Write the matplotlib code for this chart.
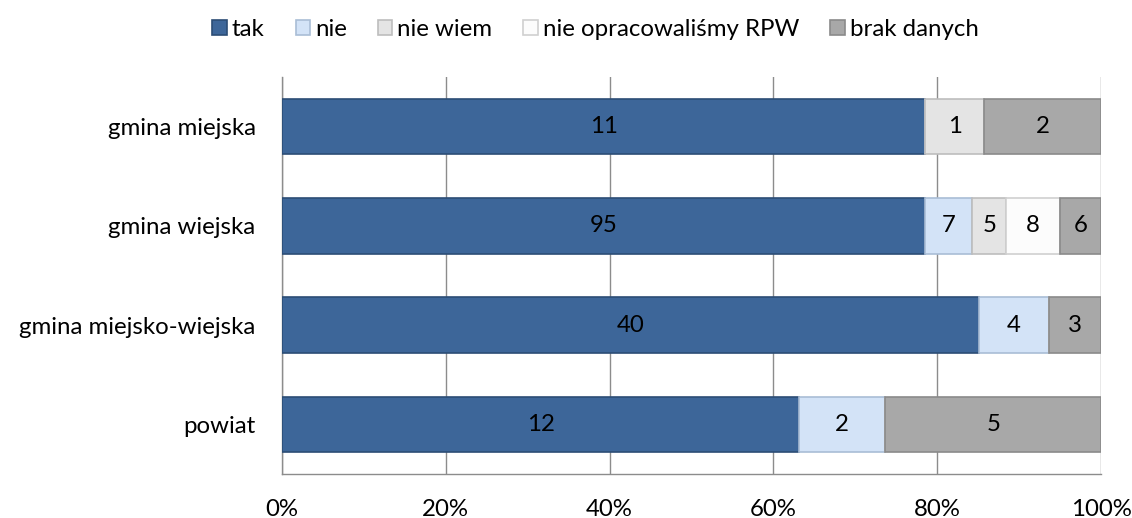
import matplotlib.pyplot as plt
import numpy as np

plt.rcParams['font.family'] = ['Lato', 'DejaVu Sans']

categories = ['gmina miejska', 'gmina wiejska', 'gmina miejsko-wiejska', 'powiat']
series = ['tak', 'nie', 'nie wiem', 'nie opracowaliśmy RPW', 'brak danych']
values = {
    'tak': [11, 95, 40, 12],
    'nie': [0, 7, 4, 2],
    'nie wiem': [1, 5, 0, 0],
    'nie opracowaliśmy RPW': [0, 8, 0, 0],
    'brak danych': [2, 6, 3, 5],
}
colors = ['#3d6699', '#d3e3f7', '#e4e4e4', '#fcfcfc', '#a8a8a8']
edges = ['#2c4d75', '#a9bdd6', '#bdbdbd', '#d0d0d0', '#8a8a8a']

fig = plt.figure(figsize=(11.32, 5.18), dpi=100)
ax = fig.add_axes([0.2491, 0.0849, 0.7235, 0.7665])

data = np.array([values[s] for s in series], dtype=float)
totals = data.sum(axis=0)
pct = data / totals * 100
y = np.arange(len(categories))

fs = 17.3
left = np.zeros(len(categories))
for i, s in enumerate(series):
    ax.barh(y, pct[i], left=left, height=0.56, color=colors[i],
            edgecolor=edges[i], linewidth=1.2, label=s, zorder=3)
    for j in range(len(categories)):
        if data[i, j] > 0:
            ax.text(left[j] + pct[i, j] / 2, y[j], f'{int(data[i, j])}',
                    ha='center', va='center', fontsize=fs, color='black', zorder=4)
    left += pct[i]

ax.set_xlim(0, 100)
ax.set_ylim(len(categories) - 0.5, -0.5)
ax.set_yticks(y)
ax.set_yticklabels(categories, fontsize=fs)
ax.set_xticks(np.arange(0, 101, 20))
ax.set_xticklabels([f'{t}%' for t in range(0, 101, 20)], fontsize=fs)
ax.tick_params(axis='y', length=0, pad=19)
ax.tick_params(axis='x', length=0, pad=18)
ax.grid(axis='x', color='#8c8c8c', linewidth=1, zorder=0)
for sp in ['top', 'right']:
    ax.spines[sp].set_visible(False)
for sp in ['left', 'bottom']:
    ax.spines[sp].set_color('#8c8c8c')
    ax.spines[sp].set_linewidth(1)

fig.legend(loc='upper center', bbox_to_anchor=(0.526, 1.005), ncol=5, frameon=False,
           fontsize=fs, handlelength=0.6, handleheight=0.6, handletextpad=0.2,
           columnspacing=1.3)

fig.savefig('out.png', dpi=100)
